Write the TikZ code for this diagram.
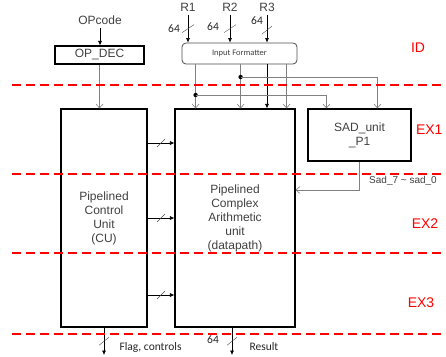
\documentclass[tikz,border=0pt]{standalone}
\usepackage{fontspec}
\setmainfont{Liberation Sans}
\newfontfamily\labfont{Carlito}
\usetikzlibrary{arrows.meta,positioning}

\begin{document}
\begin{tikzpicture}[x=1pt,y=-1pt,
    font=\fontsize{12}{14}\selectfont,
    txt/.style={text=black!75},
    box/.style={draw, line width=1.1pt, txt, align=center, inner sep=0pt},
    gline/.style={black!50, semithick},
    garrow/.style={gline, -{Straight Barb[length=4pt,width=7pt]}},
    barrow/.style={semithick, -{Latex[length=4.5pt,width=4pt]}},
    slash/.style={black!70, thin},
    stage/.style={red, line width=2.2pt, dash pattern=on 9pt off 5pt},
    stagelbl/.style={red, font=\fontsize{14}{16}\selectfont},
    lbl/.style={text=black!85, font=\labfont\fontsize{11.5}{13}\selectfont}
  ]
    \useasboundingbox (0,0) rectangle (446,356);

    % Bloecke
    \node[box, minimum width=89, minimum height=18] (dec) at (99.5,55) {OP\_DEC};
    \node[box, draw=black!70, line width=0.8pt, rounded corners=4pt, minimum width=115,
      minimum height=21, font=\labfont\fontsize{8.5}{10}\selectfont] (inf) at (239.5,53.5) {Input Formatter};
    \node[box, minimum width=86, minimum height=218] (cu) at (104,218) {Pipelined\\Control\\Unit\\(CU)};
    \node[box, minimum width=120, minimum height=218] (dp) at (235,218) {Pipelined\\Complex\\Arithmetic\\unit\\(datapath)};
    \node[box, minimum width=103, minimum height=52] (sad) at (359.5,135) {SAD\_unit\\\_P1};

    % Eingaenge
    \node[txt] (opc) at (100,20) {OPcode};
    \draw[barrow] (opc.south) -- (opc.south |- dec.north);
    \node[txt] (r1) at (188,7) {R1};
    \node[txt] (r2) at (230,7) {R2};
    \node[txt] (r3) at (267,7) {R3};
    \draw[barrow] (r1) -- coordinate[pos=.5] (s1) (r1 |- inf.north);
    \draw[barrow] (r2) -- coordinate[pos=.5] (s2) (r2 |- inf.north);
    \draw[barrow] (r3) -- coordinate[pos=.55] (s3) (r3 |- inf.north);
    \draw[slash] (s1) ++(-6,4) -- ++(12,-8);
    \draw[slash] (s2) ++(-6,4) -- ++(12,-8);
    \draw[slash] (s3) ++(-5,4) -- ++(10,-8);
    \node[lbl] (w1) at (174,29) {64};
    \node[lbl] (w2) at (213,27) {64};
    \node[lbl] (w3) at (257,21) {64};

    % Formatter -> Datapath
    \draw[garrow] (dec.south) -- (dec.south |- cu.north);
    \draw[garrow] ([xshift=14pt]inf.south west) coordinate (o1) -- (o1 |- dp.north);
    \draw[garrow] ([xshift=59pt]inf.south west) coordinate (o2) -- (o2 |- dp.north);
    \draw[barrow] (r3 |- inf.south) -- (r3 |- dp.north);
    \draw[garrow] ([xshift=105pt]inf.south west) coordinate (o4) -- (o4 |- dp.north);
    \coordinate (j1) at (o2 |- 0,77);
    \coordinate (j2) at (o1 |- 0,95);
    \fill (j1) circle (2.2pt);
    \fill (j2) circle (2.2pt);
    \draw[garrow] (j1) -| ([xshift=70pt]sad.north west);
    \draw[garrow] (j2) -| ([xshift=19pt]sad.north west);

    % SAD -> Datapath
    \draw[garrow] (sad.south) |- (dp.east |- 0,190);
    \node[txt, font=\fontsize{10}{12}\selectfont] (sadl) at (403,181) {Sad\_7 \textasciitilde{} sad\_0};

    % CU -> Datapath
    \foreach \y/\n in {143/1,218/2,295/3} {
      \draw[barrow] (cu.east |- 0,\y) -- coordinate[pos=.5] (c\n) (dp.west |- 0,\y);
      \draw[slash] (c\n) ++(-4,4) -- ++(8,-8);
    }

    % Ausgaenge
    \draw[barrow] (cu.south) -- coordinate[pos=.5] (f1) (cu.south |- 0,355);
    \draw[slash] (f1) ++(-5,4) -- ++(10,-8);
    \node[lbl, anchor=west] (flag) at (116,347) {Flag, controls};
    \draw[barrow] ([xshift=-3pt]dp.south) coordinate (d1) -- coordinate[pos=.5] (f2) (d1 |- 0,355);
    \draw[slash] (f2) ++(-5,4) -- ++(10,-8);
    \node[lbl] (w4) at (213,340) {64};
    \node[lbl, anchor=west] (res) at (246,347) {Result};

    % Pipelinestufen
    \foreach \y in {85,174,253,334}
      \draw[stage] (12,\y) -- (446,\y);
    \node[stagelbl] (id) at (418,48) {ID};
    \node[stagelbl, anchor=east] (ex1) at (446,130) {EX1};
    \node[stagelbl] (ex2) at (425,224) {EX2};
    \node[stagelbl] (ex3) at (421,303) {EX3};
\end{tikzpicture}
\end{document}
